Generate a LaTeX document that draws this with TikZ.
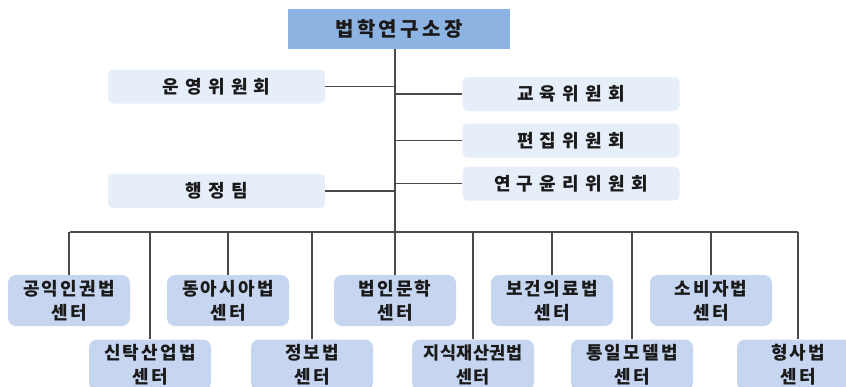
\documentclass[tikz,border=0pt]{standalone}
\usepackage{fontspec}
\usepackage{xcolor}
\usetikzlibrary{positioning}
\newfontfamily\krhead[LetterSpace=17]{Noto Sans CJK KR}
\newfontfamily\krcomm[LetterSpace=35]{Noto Sans CJK KR}
\newfontfamily\krctr[LetterSpace=12]{Noto Sans CJK KR}
\newfontfamily\krtight[LetterSpace=3]{Noto Sans CJK KR}
\definecolor{headblue}{HTML}{8DB3E2}
\definecolor{commblue}{HTML}{E6EEF9}
\definecolor{ctrblue}{HTML}{C6D6F0}
\definecolor{linegray}{HTML}{4A4A4A}
\definecolor{txt}{HTML}{1A1A1A}

\begin{document}
\begin{tikzpicture}[x=1pt, y=-1pt,
  head/.style={rectangle, fill=headblue, minimum width=222pt, minimum height=40pt, inner sep=0pt, text=txt, font=\krhead\bfseries\fontsize{20}{22}\selectfont},
  comm/.style={rectangle, rounded corners=5pt, fill=commblue, minimum width=217pt, minimum height=34pt, inner sep=0pt, text=txt, font=\krcomm\bfseries\fontsize{18}{20}\selectfont},
  ctr/.style={rectangle, rounded corners=8pt, fill=ctrblue, minimum width=122pt, minimum height=51pt, inner sep=0pt, align=center, text=txt, font=\krctr\bfseries\fontsize{18}{24}\selectfont},
  wire/.style={draw=linegray, line width=1.1pt}
]
  \clip (0,0) rectangle (846,386);

  \node[head] (dir) at (399,29) {법학연구소장};

  \node[comm] (opc) at (216.5,86.5) {운영위원회};
  \node[comm] (adm) at (216.5,191) {행정팀};
  \node[comm] (edu) at (571,94) {교육위원회};
  \node[comm] (edt) at (571,140.5) {편집위원회};
  \node[comm] (eth) at (571,183.5) {연구윤리위원회};

  \node[ctr] (c1) at (69,300.5) {공익인권법\\센터};
  \node[ctr] (c2) at (150,365) {신탁산업법\\센터};
  \node[ctr] (c3) at (228,300.5) {동아시아법\\센터};
  \node[ctr] (c4) at (312,365) {정보법\\센터};
  \node[ctr] (c5) at (395,300.5) {법인문학\\센터};
  \node[ctr, font=\krtight\bfseries\fontsize{17.5}{24}\selectfont] (c6) at (473,365) {지식재산권법\\센터};
  \node[ctr] (c7) at (552,300.5) {보건의료법\\센터};
  \node[ctr] (c8) at (632,365) {통일모델법\\센터};
  \node[ctr] (c9) at (711,300.5) {소비자법\\센터};
  \node[ctr] (c10) at (798,365) {형사법\\센터};

  \coordinate (bus) at (395,232);

  \draw[wire] ([xshift=-4pt]dir.south) -- (c5.north);
  \foreach \n in {opc,adm} {
    \draw[wire] (\n.east) -- (\n.east -| c5.north);
  }
  \foreach \n in {edu,edt,eth} {
    \draw[wire] (\n.west) -- (\n.west -| c5.north);
  }
  \draw[wire] ([xshift=1pt]c1.north |- bus) -- (c10.north |- bus);
  \foreach \n in {c1,c2,c3,c4,c6,c7,c8,c9,c10} {
    \draw[wire] (\n.north |- bus) -- (\n.north);
  }
\end{tikzpicture}
\end{document}
